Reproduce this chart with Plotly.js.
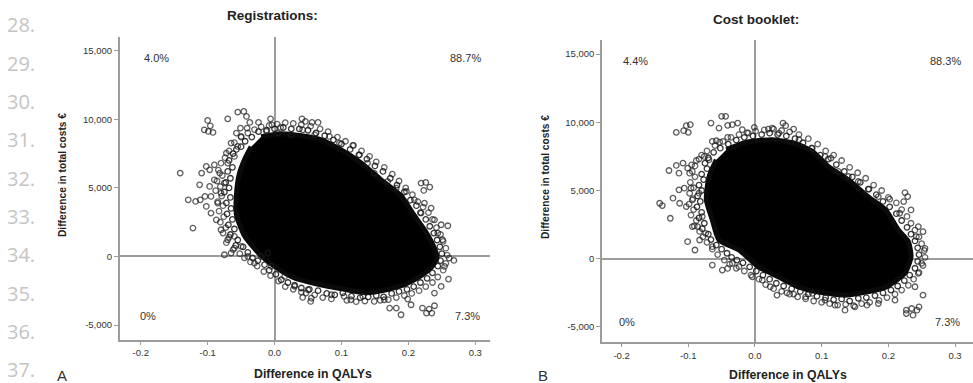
<!DOCTYPE html>
<html>
<head>
<meta charset="utf-8">
<script src="https://cdn.plot.ly/plotly-3.0.1.min.js"></script>
<style>
  html, body { margin: 0; padding: 0; background: #ffffff; }
  #chart { width: 973px; height: 383px; }
</style>
</head>
<body>
<div id="chart"></div>
<script>
// ---- Registrations: dense cloud outline (QALY difference, cost difference €)
const regCoreX = [-0.020, 0.010, 0.040, 0.070, 0.099, 0.129, 0.159, 0.189, 0.208, 0.226, 0.238, 0.243,
  0.234, 0.219, 0.197, 0.167, 0.137, 0.100, 0.062, 0.029, 0.003, -0.023, -0.045, -0.057, -0.057, -0.053, -0.045, -0.035];
const regCoreY = [8725, 8944, 8798, 8506, 7778, 6830, 5591, 4425, 3040, 1800, 707, -95,
  -823, -1407, -1990, -2427, -2646, -2354, -1990, -1552, -823, 197, 1509, 3040, 4498, 5955, 7048, 7996];

// ---- Registrations: crowded replicates along the cloud edge
const regEdgeX = [-0.062, -0.068, -0.063, -0.070, -0.066, -0.073, -0.068, -0.075, -0.066, -0.072, -0.065, -0.071,
  -0.063, -0.069, -0.060, -0.066, -0.055, -0.058, -0.047, -0.040, -0.033, -0.025, -0.015, -0.008, 0.002, 0.010,
  0.020, 0.030, 0.040, 0.052, 0.065, 0.078, 0.090, 0.102, 0.115, 0.128, 0.140, 0.152, 0.163, 0.175, 0.186, 0.198,
  0.208, 0.218, 0.228, 0.236, 0.244, 0.248, 0.250, 0.247, 0.243, 0.238, 0.232, 0.226, 0.218, 0.212, 0.203, 0.194,
  0.183, 0.173, 0.162, 0.150, 0.138, 0.126, 0.113, 0.100, 0.088, 0.075, 0.062, 0.050, 0.037, 0.025, 0.013, 0.000,
  -0.012, -0.024, -0.034, -0.044, -0.050, -0.057];
const regEdgeY = [7500, 7000, 6500, 6200, 5700, 5400, 5000, 4700, 4300, 3900, 3500, 3100,
  2700, 2300, 2000, 1600, 1200, 800, 700, 300, -100, -300, -600, -1000, -1300, -1700,
  -1900, -2100, -2300, -2400, -2500, -2700, -2800, -2650, -2900, -3000, -2950, -2850, -2950, -2700, -2550, -2400,
  -2200, -1900, -1600, -1200, -700, -300, 200, 700, 1200, 1700, 2200, 2700, 3200, 3700, 4100, 4700,
  5200, 5700, 6200, 6600, 7100, 7400, 7800, 8200, 8500, 8800, 9000, 9200, 9300, 9300, 9400, 9300,
  9200, 9100, 8700, 8400, 8000, 7800];

// ---- Registrations: thinner halo just outside the edge
const regHaloX = [-0.080, -0.084, -0.078, -0.086, -0.081, -0.088, -0.079, -0.085, -0.077, -0.083, -0.076, -0.081,
  -0.073, -0.077, -0.068, -0.072, -0.062, -0.052, -0.045, -0.036, -0.026, -0.016, -0.006, 0.006, 0.016, 0.028,
  0.040, 0.060, 0.072, 0.085, 0.108, 0.122, 0.135, 0.158, 0.170, 0.182, 0.194, 0.205, 0.216, 0.226, 0.236, 0.244,
  0.252, 0.256, 0.258, 0.256, 0.252, 0.248, 0.242, 0.236, 0.230, 0.222, 0.214, 0.206, 0.196, 0.186, 0.176, 0.164,
  0.152, 0.142, 0.130, 0.118, 0.106, 0.094, 0.080, 0.068, 0.054, 0.040, 0.028, 0.016, 0.004, -0.008, -0.020, -0.030,
  -0.040, -0.050, -0.060, -0.068, -0.074];
const regHaloY = [6800, 6300, 5900, 5500, 5100, 4800, 4400, 4000, 3700, 3300, 2900, 2500,
  2100, 1700, 1400, 1000, 500, 200, -100, -400, -700, -1100, -1400, -1800, -2200, -2400,
  -2600, -2800, -3000, -3100, -3200, -3300, -3250, -3200, -3150, -3000, -2850, -2700, -2500, -2200, -1900, -1500,
  -1000, -500, 100, 600, 1100, 1600, 2100, 2700, 3200, 3600, 4000, 4500, 5000, 5500, 6000, 6500,
  6900, 7300, 7700, 8100, 8400, 8700, 9100, 9300, 9500, 9600, 9700, 9750, 9650, 9550, 9450, 9250,
  9000, 8700, 8300, 7700, 7200];

// ---- Registrations: scattered replicates away from the cloud
const regPtsX = [-0.141, -0.122, -0.129, -0.118, -0.111, -0.104, -0.112, -0.109, -0.102, -0.097, -0.090, -0.082,
  -0.090, -0.097, -0.095, -0.102, -0.095, -0.085, -0.080, -0.075, -0.087, -0.080, -0.075, -0.065, -0.060, -0.070,
  -0.060, -0.070, -0.072, -0.060, -0.065, -0.055, -0.050, -0.057,
  -0.100, -0.105, -0.096, -0.092, -0.099,
  -0.070, -0.055, -0.046, -0.042, -0.037, -0.041, -0.051, -0.024, -0.006, -0.004, -0.012, 0.009, 0.005, 0.025,
  0.041, 0.046, 0.056, 0.065, 0.042, 0.060, 0.082, 0.097, 0.117, 0.127, 0.139, 0.149, 0.169, 0.182, 0.197,
  0.219, 0.226, 0.232, 0.223, 0.209, 0.224, 0.234, 0.219, 0.239, 0.249, 0.259, 0.244, 0.251, 0.261, 0.268,
  0.254, 0.260, 0.249, 0.239,
  0.221, 0.231, 0.239, 0.235, 0.227, 0.204, 0.189, 0.182, 0.172, 0.199, 0.164, 0.149, 0.132, 0.114, 0.104, 0.085,
  0.042, 0.047, 0.054, 0.055, 0.050, 0.030, 0.015, -0.005, -0.010, -0.020, -0.030, -0.040, -0.050];
const regPtsY = [6075, 2066, 4131, 4010, 4131, 4374, 5225, 6075, 6561, 6318, 6683, 6075,
  5589, 5103, 4374, 3645, 3159, 3888, 4617, 5346, 2673, 1944, 122, 243, 608, 1215,
  1458, 6804, 7533, 7290, 8262, 8019, 8748, 8991,
  9914, 9234, 9526, 9040, 9113,
  10036, 10522, 10571, 10206, 9769, 9356, 9356, 9769, 10036, 9599, 9113, 9404, 8991, 8870,
  10036, 9842, 9769, 9769, 9234, 8870, 8748, 8262, 8092, 7412, 6804, 6075, 5468, 4982, 4739,
  5346, 5395, 5054, 4811, 4131, 3888, 3524, 3159, 2673, 2309, 2236, 1701, 1215, -122, -292,
  -729, -1652, -2187, -2673,
  -3767, -3839, -3596, -4131, -4131, -3524, -4253, -3767, -3767, -3110, -3159, -3281, -2916, -3159, -2916, -2795,
  -2989, -2673, -3281, -3038, -2430, -2187, -1458, -729, 243, 0, -486, 0, 729];

// ---- Cost booklet: dense cloud outline
const bookCoreX = [-0.043, -0.014, 0.026, 0.061, 0.086, 0.110, 0.140, 0.170, 0.196, 0.215, 0.230, 0.234,
  0.225, 0.196, 0.166, 0.136, 0.096, 0.066, 0.036, 0.006, -0.024, -0.054, -0.064, -0.073, -0.069, -0.058];
const bookCoreY = [7987, 8526, 8722, 8428, 7865, 6762, 5782, 4533, 3577, 2107, 1250, 147,
  -1054, -2083, -2450, -2671, -2450, -2083, -1348, -613, 637, 1372, 2842, 4312, 6003, 7252];

// ---- Cost booklet: crowded replicates along the cloud edge
const bookEdgeX = [-0.062, -0.070, -0.075, -0.072, -0.080, -0.077, -0.084, -0.080, -0.086, -0.082, -0.087, -0.080,
  -0.084, -0.076, -0.079, -0.070, -0.066, -0.058, -0.050, -0.042, -0.035, -0.027, -0.018, -0.008, 0.002, 0.012,
  0.022, 0.032, 0.043, 0.055, 0.068, 0.080, 0.093, 0.106, 0.118, 0.130, 0.142, 0.155, 0.167, 0.180, 0.192, 0.204,
  0.214, 0.224, 0.232, 0.240, 0.244, 0.246, 0.244, 0.240, 0.234, 0.228, 0.220, 0.212, 0.202, 0.192, 0.182, 0.170,
  0.158, 0.146, 0.134, 0.122, 0.110, 0.098, 0.085, 0.072, 0.060, 0.047, 0.034, 0.022, 0.010, -0.003, -0.016, -0.028,
  -0.040, -0.052];
const bookEdgeY = [7800, 7400, 7000, 6600, 6200, 5800, 5400, 5000, 4600, 4200, 3800, 3400,
  3000, 2600, 2200, 1800, 1400, 1000, 700, 400, 100, -100, -300, -600, -900, -1200,
  -1500, -1800, -2000, -2200, -2400, -2600, -2750, -2850, -3000, -2950, -3100, -2900, -2850, -2700, -2500, -2300,
  -2000, -1600, -1200, -700, -200, 300, 800, 1300, 1800, 2300, 2800, 3300, 3800, 4200, 4700, 5100,
  5600, 6000, 6400, 6900, 7300, 7600, 8100, 8500, 8800, 9000, 9100, 9200, 9100, 9000, 8900, 8700,
  8400, 8100];

// ---- Cost booklet: thinner halo just outside the edge
const bookHaloX = [-0.088, -0.090, -0.094, -0.090, -0.097, -0.092, -0.098, -0.093, -0.099, -0.092, -0.096, -0.088,
  -0.091, -0.083, -0.078, -0.072, -0.064, -0.056, -0.046, -0.038, -0.028, -0.016, -0.006, 0.006, 0.016, 0.028,
  0.040, 0.052, 0.064, 0.076, 0.088, 0.100, 0.112, 0.124, 0.136, 0.148, 0.160, 0.172, 0.186, 0.198, 0.210, 0.220,
  0.230, 0.238, 0.246, 0.252, 0.255, 0.254, 0.250, 0.246, 0.240, 0.234, 0.228, 0.220, 0.212, 0.200, 0.190, 0.178,
  0.166, 0.154, 0.142, 0.130, 0.118, 0.106, 0.094, 0.080, 0.066, 0.052, 0.040, 0.028, 0.014, 0.001, -0.012, -0.024,
  -0.036, -0.048, -0.060, -0.072, -0.080];
const bookHaloY = [7200, 6800, 6400, 6000, 5600, 5200, 4800, 4400, 4000, 3600, 3200, 2800,
  2400, 2000, 1600, 1200, 700, 300, -100, -400, -700, -900, -1200, -1500, -1900, -2200,
  -2400, -2600, -2800, -2950, -3100, -3200, -3300, -3400, -3350, -3450, -3300, -3200, -3050, -2850, -2600, -2300,
  -1950, -1500, -1000, -500, 100, 600, 1100, 1600, 2100, 2600, 3100, 3600, 4100, 4500, 5000, 5400,
  5900, 6300, 6700, 7200, 7600, 7900, 8400, 8800, 9100, 9300, 9400, 9500, 9450, 9350, 9250, 9100,
  8900, 8600, 8300, 7900, 7600];

// ---- Cost booklet: scattered replicates away from the cloud
const bookPtsX = [-0.143, -0.139, -0.127, -0.129, -0.118, -0.114, -0.108, -0.101, -0.095, -0.098, -0.114, -0.106,
  -0.096, -0.123, -0.113, -0.103, -0.094, -0.084, -0.101, -0.090, -0.083, -0.086, -0.094, -0.079, -0.074, -0.064,
  -0.049, -0.041, -0.034, -0.024, -0.064,
  -0.118, -0.107, -0.103, -0.097, -0.100, -0.066, -0.054, -0.050, -0.044, -0.041, -0.034, -0.026, -0.064, -0.058,
  -0.053, -0.069, -0.076, -0.084, -0.041, -0.019, -0.001, -0.010,
  0.020, 0.026, 0.042, 0.046, 0.058, 0.036, 0.066, 0.086, 0.105, 0.114, 0.125, 0.140, 0.155, 0.171, 0.185,
  0.202, 0.225, 0.229, 0.223, 0.234, 0.217, 0.245, 0.252, 0.242, 0.255, 0.250, 0.245, 0.240, 0.252,
  0.227, 0.227, 0.235, 0.243, 0.246, 0.237,
  0.210, 0.185, 0.168, 0.150, 0.135, 0.120, 0.105, 0.086, 0.076, 0.058, 0.048, 0.033, 0.023, 0.011, -0.004];
const bookPtsY = [4067, 3896, 2965, 6468, 6836, 6272, 7007, 6640, 6885, 6272, 5047, 5170,
  5170, 4435, 4067, 3822, 4312, 4802, 1250, 637, 1372, 2352, 2352, 3087, 1862, -466,
  -833, -711, -343, -588, 882,
  9261, 9384, 9751, 9825, 9261, 9947, 9580, 10437, 10437, 9776, 9825, 9947, 8600, 8649,
  8551, 7252, 7497, 7301, 8894, 9457, 9629, 9212,
  9506, 9580, 9947, 9751, 9506, 9212, 8722, 8110, 7497, 7375, 6395, 6027, 5660, 5096, 4557,
  4361, 4851, 4557, 4190, 3577, 3332, 2352, 1985, 1617, 760, -343, -1078, -2058, -2671,
  -3773, -4018, -3651, -3773, -3528, -4141,
  -3038, -3283, -3406, -3528, -3773, -3406, -3038, -2548, -2793, -2597, -2499, -2671, -2058, -1568, -1323];

// ---- Axis ticks and quadrant shares
const xTickVals = [-0.2, -0.1, 0, 0.1, 0.2, 0.3];
const xTickText = ['-0.2', '-0.1', '0.0', '0.1', '0.2', '0.3'];
const yTickVals = [-5000, 0, 5000, 10000, 15000];
const yTickText = ['-5,000', '0', '5,000', '10,000', '15,000'];
const regShares = ['4.0%', '88.7%', '0%', '7.3%'];
const bookShares = ['4.4%', '88.3%', '0%', '7.3%'];
const lineNumbers = ['28.', '29.', '30.', '31.', '32.', '33.', '34.', '35.', '36.', '37.'];

const W = 973, H = 383;
const FONT = 'Liberation Sans, Arial, Helvetica, sans-serif';
const AXIS_GREY = '#9c9c9c';

function cloud(x, y, xa, ya) {
  return {
    x: x, y: y, xaxis: xa, yaxis: ya, type: 'scatter', mode: 'lines',
    fill: 'toself', fillcolor: '#000000',
    line: { color: '#0a0a0a', width: 5, shape: 'spline', smoothing: 0.6 },
    hoverinfo: 'skip', showlegend: false
  };
}
function dots(x, y, xa, ya, colour) {
  return {
    x: x, y: y, xaxis: xa, yaxis: ya, type: 'scatter', mode: 'markers',
    marker: { symbol: 'circle-open', size: 5.5, color: colour, line: { width: 1.3 } },
    hoverinfo: 'skip', showlegend: false
  };
}

function xAxis(domain, range, anchor) {
  return {
    domain: domain, range: range, anchor: anchor, showgrid: false,
    zeroline: true, zerolinecolor: AXIS_GREY, zerolinewidth: 2,
    showline: true, linecolor: AXIS_GREY, linewidth: 2,
    ticks: 'outside', ticklen: 3, tickcolor: AXIS_GREY, tickwidth: 1,
    tickvals: xTickVals, ticktext: xTickText,
    tickfont: { family: FONT, size: 9.5, color: '#333333' }, fixedrange: true
  };
}
function yAxis(domain, range, anchor) {
  return {
    domain: domain, range: range, anchor: anchor, showgrid: false,
    zeroline: true, zerolinecolor: AXIS_GREY, zerolinewidth: 2,
    showline: true, linecolor: AXIS_GREY, linewidth: 2,
    ticks: 'outside', ticklen: 4, tickcolor: AXIS_GREY, tickwidth: 1,
    tickvals: yTickVals, ticktext: yTickText,
    tickfont: { family: FONT, size: 9.5, color: '#333333' }, fixedrange: true
  };
}

const EDGE = 'rgba(20,20,20,0.85)';
const HALO = 'rgba(35,35,35,0.7)';
const LOOSE = 'rgba(30,30,30,0.72)';
const data = [
  cloud(regCoreX, regCoreY, 'x', 'y'),
  dots(regHaloX, regHaloY, 'x', 'y', HALO),
  dots(regEdgeX, regEdgeY, 'x', 'y', EDGE),
  dots(regPtsX, regPtsY, 'x', 'y', LOOSE),
  cloud(bookCoreX, bookCoreY, 'x2', 'y2'),
  dots(bookHaloX, bookHaloY, 'x2', 'y2', HALO),
  dots(bookEdgeX, bookEdgeY, 'x2', 'y2', EDGE),
  dots(bookPtsX, bookPtsY, 'x2', 'y2', LOOSE)
];

const ann = [];
function pageText(text, px, py, opts) {
  ann.push(Object.assign({
    text: text, xref: 'paper', yref: 'paper', x: px / W, y: 1 - py / H,
    showarrow: false, xanchor: 'center', yanchor: 'middle',
    font: { family: FONT, size: 11, color: '#222222' }
  }, opts || {}));
}

// line numbers of the page margin
lineNumbers.forEach(function (t, i) {
  pageText(t, 5, 25 + i * 38.3, { xanchor: 'left', font: { family: 'Open Sans, sans-serif', size: 20, color: '#c4c4c4' } });
});

// panel titles and axis titles
const TITLE_FONT = { family: FONT, size: 13.5, color: '#222222' };
const XT_FONT = { family: FONT, size: 12.3, color: '#222222' };
const YT_FONT = { family: FONT, size: 10.2, color: '#222222' };
pageText('<b>Registrations:</b>', 272, 16, { font: TITLE_FONT });
pageText('<b>Cost booklet:</b>', 756, 19, { font: TITLE_FONT });
pageText('<b>Difference in QALYs</b>', 313, 374, { font: XT_FONT });
pageText('<b>Difference in QALYs</b>', 788, 375, { font: XT_FONT });
pageText('<b>Difference in total costs €</b>', 63, 175, { textangle: -90, font: YT_FONT });
pageText('<b>Difference in total costs €</b>', 545, 177, { textangle: -90, font: YT_FONT });
pageText('A', 62, 375, { font: { family: FONT, size: 15, color: '#333333' } });
pageText('B', 543, 375, { font: { family: FONT, size: 15, color: '#333333' } });

// quadrant shares in data coordinates
function shares(labels, xa, ya, xs, ys) {
  labels.forEach(function (t, i) {
    ann.push({
      text: t, xref: xa, yref: ya, x: xs[i], y: ys[i], showarrow: false,
      xanchor: 'center', yanchor: 'middle',
      font: { family: FONT, size: 11, color: '#333333' }
    });
  });
}
shares(regShares, 'x', 'y', [-0.177, 0.286, -0.189, 0.288], [14480, 14480, -4320, -4320]);
shares(bookShares, 'x2', 'y2', [-0.179, 0.286, -0.192, 0.288], [14520, 14520, -4640, -4640]);

const layout = {
  width: W, height: H,
  margin: { l: 0, r: 0, t: 0, b: 0 },
  paper_bgcolor: '#ffffff', plot_bgcolor: '#ffffff',
  showlegend: false,
  xaxis: xAxis([120 / W, 490 / W], [-0.231, 0.322], 'y'),
  yaxis: yAxis([43 / H, 346 / H], [-6093, 16000], 'x'),
  xaxis2: xAxis([602.3 / W, 1], [-0.229, 0.327], 'y2'),
  yaxis2: yAxis([40.7 / H, 343 / H], [-6129, 16034], 'x2'),
  annotations: ann
};

Plotly.newPlot('chart', data, layout, { staticPlot: true, displayModeBar: false });
</script>
</body>
</html>
